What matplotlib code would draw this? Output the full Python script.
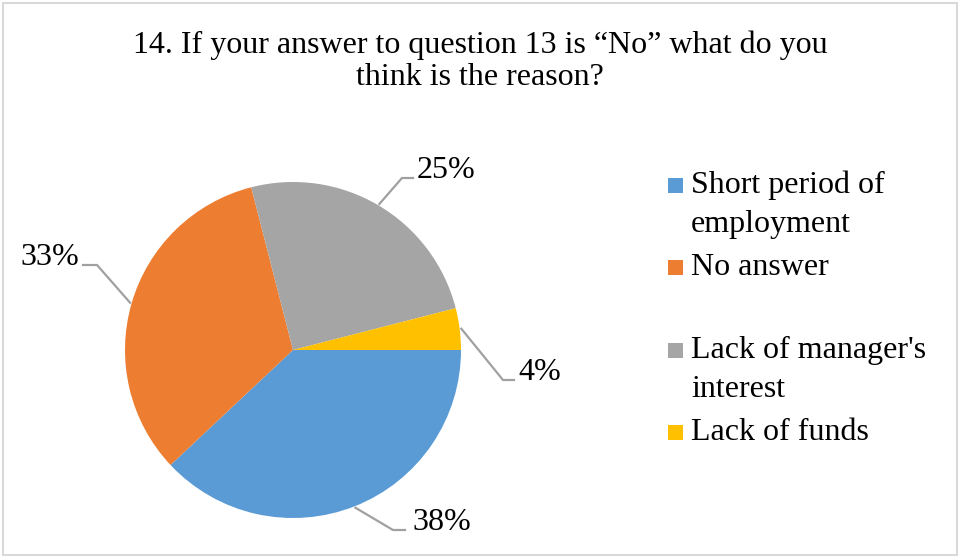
import numpy as np
import matplotlib.pyplot as plt
from matplotlib.patches import Rectangle

# data
categories = ["Short period of\nemployment", "No answer",
              "Lack of manager's\ninterest", "Lack of funds"]
shares = [38, 33, 25, 4]
pct_labels = ["38%", "33%", "25%", "4%"]
colors = ["#5B9BD5", "#ED7D31", "#A5A5A5", "#FFC000"]
title = "14. If your answer to question 13 is \u201cNo\u201d what do you\nthink is the reason?"

# layout (pixel coords, y down)
W, H = 959, 556
center, radius = (293, 350), 168
# label text anchor, horizontal alignment, elbow x, line end x
label_pos = [(412, 530, "left", 393, 405),
             (79, 265, "right", 97, 83),
             (417, 178, "left", 402, 413),
             (518, 380, "left", 503, 514)]
legend_x, legend_baselines = 668, [193, 275, 358, 440]
legend_pitch, title_pitch = 39, 32
fsize = 23

plt.rcParams["font.family"] = ["Liberation Serif", "DejaVu Serif"]

fig = plt.figure(figsize=(W / 100, H / 100), dpi=100)
ax = fig.add_axes([0, 0, 1, 1])

# y axis flipped, so counterclock=True draws clockwise on screen
wedges, _ = ax.pie(shares, colors=colors, startangle=0, counterclock=True,
                   center=center, radius=radius,
                   wedgeprops=dict(linewidth=0))
ax.set_xlim(0, W)
ax.set_ylim(H, 0)
ax.set_aspect("equal")
ax.axis("off")

for w, lab, (tx, ty, ha, ex, lx) in zip(wedges, pct_labels, label_pos):
    mid = np.deg2rad((w.theta1 + w.theta2) / 2)
    sx = center[0] + radius * 1.01 * np.cos(mid)
    sy = center[1] + radius * 1.01 * np.sin(mid)
    ax.plot([sx, ex, lx], [sy, ty, ty], color="#A0A0A0", lw=1.6,
            solid_joinstyle="miter")
    ax.text(tx, ty, lab, ha=ha, va="baseline", fontsize=fsize, color="black")

for w, name, base in zip(wedges, categories, legend_baselines):
    ax.add_patch(Rectangle((legend_x, base - 15), 15, 15,
                           facecolor=w.get_facecolor(), edgecolor="none"))
    for i, line in enumerate(name.split("\n")):
        ax.text(legend_x + 23, base + i * legend_pitch, line, ha="left",
                va="baseline", fontsize=fsize, color="black")

for i, line in enumerate(title.split("\n")):
    ax.text(480, 53 + i * title_pitch, line, ha="center", va="baseline",
            fontsize=fsize, color="black")

ax.add_patch(Rectangle((2.5, 2.5), W - 5, H - 4, facecolor="none",
                       edgecolor="#D9D9D9", lw=1.5))

fig.savefig("out.png", dpi=100)
